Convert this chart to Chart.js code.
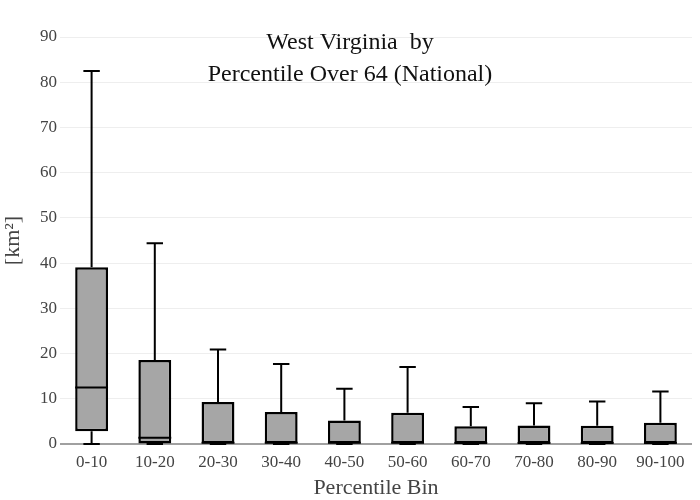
<!DOCTYPE html>
<html>
<head>
<meta charset="utf-8">
<script src="https://cdn.jsdelivr.net/npm/chart.js@4"></script>
<style>
  html, body { margin: 0; padding: 0; background: #fff; }
  #wrap { width: 700px; height: 500px; }
</style>
</head>
<body>
<div id="wrap"><canvas id="c" width="700" height="500"></canvas></div>
<script>
const categories = ["0-10","10-20","20-30","30-40","40-50","50-60","60-70","70-80","80-90","90-100"];
const mins    = [0,    0,    0,    0,    0,    0,    0,    0,    0,    0];
const q1s     = [2.8,  0.1,  0.1,  0.1,  0.1,  0.1,  0.1,  0.1,  0.1,  0.1];
const medians = [12.5, 1.4,  0.3,  0.3,  0.3,  0.3,  0.2,  0.2,  0.2,  0.2];
const q3s     = [39.1, 18.6, 9.3,  7.1,  5.2,  6.9,  3.9,  4.1,  4.05, 4.7];
const maxs    = [82.5, 44.4, 20.9, 17.7, 12.2, 17.0, 8.2,  9.0,  9.4,  11.6];
const yTicks  = [0,10,20,30,40,50,60,70,80,90];
const titleLines = ["West Virginia  by", "Percentile Over 64 (National)"];

const FONT = '"Liberation Serif", "Times New Roman", serif';

const whiskerPlugin = {
  id: 'whiskers',
  afterDatasetsDraw(chart) {
    const xs = chart.scales.x, ys = chart.scales.y;
    const meta = chart.getDatasetMeta(0);
    const ctx = chart.ctx;
    ctx.save();
    ctx.strokeStyle = '#000';
    ctx.lineWidth = 2;
    categories.forEach((c, i) => {
      const bar = meta.data[i];
      const x = xs.getPixelForValue(i);
      const half = bar.width / 2;
      const capHalf = half / 2;
      const yMax = ys.getPixelForValue(maxs[i]);
      const yQ3 = ys.getPixelForValue(q3s[i]);
      const yQ1 = ys.getPixelForValue(q1s[i]);
      const yMin = ys.getPixelForValue(mins[i]);
      const yMed = ys.getPixelForValue(medians[i]);
      ctx.beginPath();
      ctx.moveTo(x, yQ3); ctx.lineTo(x, yMax);
      ctx.moveTo(x - capHalf, yMax); ctx.lineTo(x + capHalf, yMax);
      ctx.moveTo(x, yQ1); ctx.lineTo(x, yMin);
      ctx.moveTo(x - capHalf, yMin); ctx.lineTo(x + capHalf, yMin);
      ctx.moveTo(x - half, yMed); ctx.lineTo(x + half, yMed);
      ctx.stroke();
    });
    ctx.restore();
  },
  afterDraw(chart) {
    const ctx = chart.ctx;
    ctx.save();
    ctx.fillStyle = '#111';
    ctx.font = "24px " + FONT;
    ctx.textAlign = 'center';
    ctx.textBaseline = 'middle';
    ctx.fillText(titleLines[0], 350, 43);
    ctx.fillText(titleLines[1], 350, 75);
    ctx.restore();
  }
};

new Chart(document.getElementById('c'), {
  type: 'bar',
  data: {
    labels: categories,
    datasets: [{
      data: categories.map((c, i) => [q1s[i], q3s[i]]),
      backgroundColor: 'rgb(166,166,166)',
      borderColor: '#000',
      borderWidth: 2.5,
      borderSkipped: false,
      barPercentage: 0.52,
      categoryPercentage: 1.0
    }]
  },
  options: {
    responsive: false,
    animation: false,
    layout: { padding: { top: 37, right: 8, bottom: 0, left: 0 } },
    plugins: {
      legend: { display: false },
      tooltip: { enabled: false },
      title: { display: false }
    },
    scales: {
      x: {
        grid: { display: false },
        border: { display: false },
        ticks: { color: '#444', font: { family: FONT, size: 17 }, padding: 0 },
        title: { display: true, text: 'Percentile Bin', color: '#444', font: { family: FONT, size: 22 }, padding: { top: 0, bottom: -1 } },
        afterFit(s) { s.height = 56; }
      },
      y: {
        min: 0, max: 90,
        afterBuildTicks(s) { s.ticks = yTicks.map(v => ({ value: v })); },
        grid: {
          color: ctx => ctx.tick && ctx.tick.value === 0 ? 'rgb(160,160,160)' : '#eeeeee',
          lineWidth: ctx => ctx.tick && ctx.tick.value === 0 ? 2 : 1,
          drawTicks: false
        },
        border: { display: false },
        ticks: { color: '#444', font: { family: FONT, size: 17 }, padding: 3 },
        title: { display: true, text: '[km²]', color: '#444', font: { family: FONT, size: 22 }, padding: { top: 0, bottom: 4 } },
        afterFit(s) { s.width = 60; }
      }
    }
  },
  plugins: [whiskerPlugin]
});
</script>
</body>
</html>
